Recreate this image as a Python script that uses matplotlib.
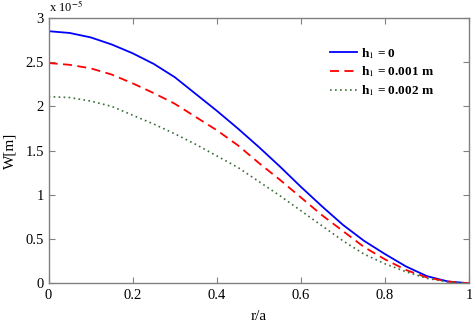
import numpy as np
import matplotlib as mpl
mpl.use('Agg')
import matplotlib.pyplot as plt

mpl.rcParams['font.family'] = ['Liberation Serif', 'DejaVu Serif']
mpl.rcParams['mathtext.fontset'] = 'stix'

# r/a sample positions and deflection W (units of 1e-5 m)
r = [0.0, 0.05, 0.1, 0.15, 0.2, 0.25, 0.3, 0.35, 0.4, 0.45, 0.5,
     0.55, 0.6, 0.65, 0.7, 0.75, 0.8, 0.85, 0.9, 0.95, 1.0]
w_h0 = [2.85, 2.83, 2.78, 2.70, 2.60, 2.48, 2.33, 2.14, 1.95, 1.75, 1.54,
        1.32, 1.09, 0.87, 0.66, 0.48, 0.33, 0.19, 0.08, 0.02, 0.0]
w_h1 = [2.49, 2.47, 2.43, 2.36, 2.26, 2.15, 2.03, 1.88, 1.73, 1.56, 1.36,
        1.17, 0.97, 0.77, 0.59, 0.41, 0.27, 0.15, 0.065, 0.02, 0.0]
w_h2 = [2.11, 2.10, 2.06, 2.00, 1.90, 1.80, 1.69, 1.57, 1.44, 1.31, 1.15,
        0.99, 0.82, 0.65, 0.48, 0.33, 0.22, 0.13, 0.055, 0.015, 0.0]
labels = [r'h$_1$ = 0', r'h$_1$ = 0.001 m', r'h$_1$ = 0.002 m']

fig = plt.figure(figsize=(4.72, 3.26), dpi=100)
ax = fig.add_axes([0.103, 0.131, 0.891, 0.814])

scale = 1e-5
ax.plot(r, np.array(w_h0) * scale, color='#0000ff', lw=1.3, label=labels[0])
ax.plot(r, np.array(w_h1) * scale, color='#ff0000', lw=1.3,
        ls=(0, (5, 3)), label=labels[1])
ax.plot(r, np.array(w_h2) * scale, color='#3a6e3a', lw=1.2,
        ls=(0, (1, 2)), label=labels[2])

ax.set_xlim(0, 1)
ax.set_ylim(0, 3e-5)
ax.set_xticks([0, 0.2, 0.4, 0.6, 0.8, 1])
ax.set_xticklabels(['0', '0.2', '0.4', '0.6', '0.8', '1'])
yt = [0, 0.5, 1, 1.5, 2, 2.5, 3]
ax.set_yticks(np.array(yt) * scale)
ax.set_yticklabels(['0', '0.5', '1', '1.5', '2', '2.5', '3'])

for s in ax.spines.values():
    s.set_color('#808080')
    s.set_linewidth(1.0)
ax.tick_params(direction='in', top=True, right=True, color='#808080',
               length=4, labelsize=10.5, labelcolor='black')
ax.tick_params(axis='x', pad=4)

ax.text(0.0, 1.012, r'x 10$^{-5}$', transform=ax.transAxes, fontsize=9,
        ha='left', va='bottom')
ax.set_xlabel('r/a', fontsize=11, labelpad=6)
ax.set_ylabel('W[m]', fontsize=11, labelpad=6)

leg = ax.legend(loc='upper right', bbox_to_anchor=(0.945, 0.94), frameon=False,
                handlelength=2.05, handletextpad=0.3,
                labelspacing=0.3, prop={'weight': 'bold', 'size': 9.5})

fig.savefig('out.png', dpi=100)
